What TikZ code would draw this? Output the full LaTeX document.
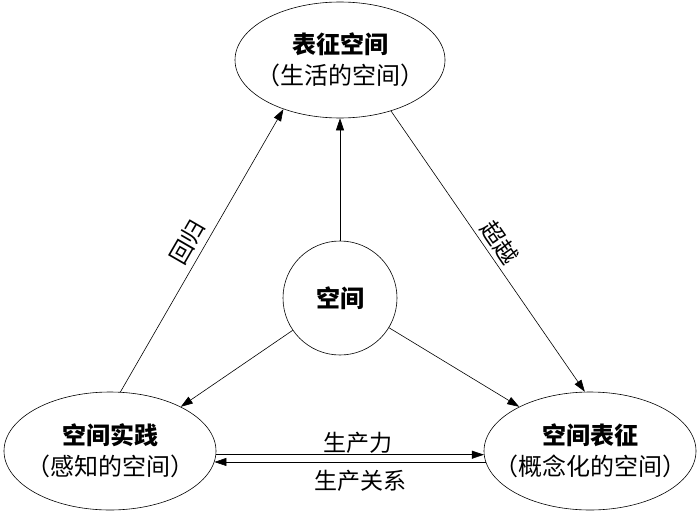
\documentclass[tikz,border=0pt]{standalone}
\usepackage{fontspec}
\setmainfont{Noto Sans CJK SC}
\usetikzlibrary{shapes.geometric,arrows.meta}
\begin{document}
\begin{tikzpicture}[x=1pt,y=-1pt,
  ell/.style={draw,ellipse,line width=0.6pt,minimum width=212pt,minimum height=118pt,inner sep=0pt},
  ttl/.style={font=\fontsize{24}{31}\selectfont,align=center},
  arr/.style={draw,line width=0.6pt,-{Triangle[length=12pt,width=8pt]}},
  lbl/.style={font=\fontsize{23}{26}\selectfont,inner sep=1pt}]
\useasboundingbox (0,0) rectangle (700,516);
\node[ell,minimum width=210pt,minimum height=116pt] (top) at (340,60) {};
\node[ttl] at (340,60) {\bfseries 表征空间\\（生活的空间）};
\node[draw,circle,line width=0.6pt,minimum size=114pt,inner sep=0pt] (cen) at (340,298) {};
\node[ttl] at (340,298) {\bfseries 空间};
\node[ell] (lft) at (110,451) {};
\node[ttl] at (110,451) {\bfseries 空间实践\\（感知的空间）};
\node[ell] (rgt) at (590,451) {};
\node[ttl] at (590,451) {\bfseries 空间表征\\（概念化的空间）};
\draw[arr] (lft.80) -- (top.221) node[lbl,midway,sloped,above=5pt] (l1) {回归};
\draw[arr] (top.315) -- (rgt.95) node[lbl,midway,sloped,above=3pt] (l2) {超越};
\draw[arr] (cen) -- (top);
\draw[arr] (cen) -- (lft.32);
\draw[arr] (cen) -- (rgt.148);
\draw[arr] (lft.-2) -- (rgt.182) node[lbl,midway,above=0pt,xshift=8pt] (l3) {生产力};
\draw[arr] (rgt.186) -- (lft.-6) node[lbl,midway,below=7pt,xshift=10pt] (l4) {生产关系};
\end{tikzpicture}
\end{document}
